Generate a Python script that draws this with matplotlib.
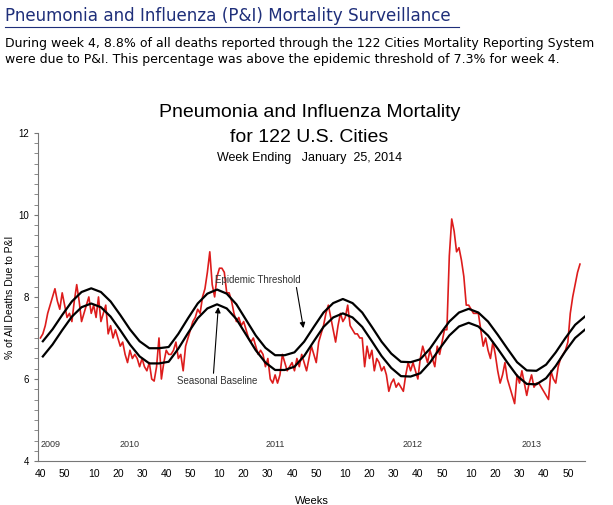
import matplotlib.pyplot as plt
from matplotlib.ticker import MultipleLocator

# ====== data (weekly, starting MMWR week 40 of 2009) ======
pi_pct = [
    7.0, 7.1, 7.3, 7.6, 7.8, 8.0, 8.2, 7.9, 7.7, 8.1, 7.8, 7.5, 7.6, 7.4, 7.9, 8.3, 7.9, 7.4, 7.6, 7.8,
    8.0, 7.6, 7.8, 7.5, 8.0, 7.4, 7.6, 7.8, 7.1, 7.3, 7.0, 7.2, 7.0, 6.8, 6.9, 6.6, 6.4, 6.7, 6.5, 6.6,
    6.5, 6.3, 6.5, 6.3, 6.2, 6.4, 6.0, 5.95, 6.3, 7.0, 6.0, 6.4, 6.7, 6.6, 6.6, 6.7, 6.9, 6.5, 6.6, 6.2,
    6.8, 7.0, 7.2, 7.4, 7.5, 7.7, 7.6, 8.0, 8.2, 8.6, 9.1, 8.3, 8.0, 8.5, 8.7, 8.7, 8.6, 8.1, 8.1, 7.9,
    7.6, 7.4, 7.5, 7.3, 7.4, 7.2, 7.0, 6.9, 7.0, 6.8, 6.6, 6.7, 6.6, 6.3, 6.5, 6.0, 5.9, 6.1, 5.9, 6.1,
    6.6, 6.4, 6.2, 6.3, 6.4, 6.2, 6.5, 6.3, 6.6, 6.4, 6.2, 6.5, 6.8, 6.6, 6.4, 6.9, 7.1, 7.3, 7.6, 7.8,
    7.5, 7.2, 6.9, 7.3, 7.6, 7.4, 7.5, 7.8, 7.3, 7.2, 7.1, 7.1, 7.0, 7.0, 6.3, 6.8, 6.5, 6.7, 6.2, 6.5,
    6.4, 6.2, 6.3, 6.1, 5.7, 5.9, 6.0, 5.8, 5.9, 5.8, 5.7, 6.1, 6.4, 6.2, 6.4, 6.2, 6.0, 6.5, 6.8, 6.6,
    6.4, 6.7, 6.5, 6.3, 6.8, 6.6, 6.9, 7.2, 7.2, 9.0, 9.9, 9.6, 9.1, 9.2, 8.9, 8.5, 7.8, 7.8, 7.7, 7.6,
    7.6, 7.6, 7.2, 6.8, 7.0, 6.7, 6.5, 6.9, 6.6, 6.2, 5.9, 6.1, 6.4, 6.0, 5.8, 5.6, 5.4, 6.1, 5.9, 6.2,
    5.9, 5.6, 5.9, 6.1, 5.8, 5.9, 5.9, 5.8, 5.7, 5.6, 5.5, 6.2, 6.0, 5.9, 6.3, 6.5, 6.6, 6.7, 6.9, 7.6,
    8.0, 8.3, 8.6, 8.8,
]

# baseline / threshold sampled every 4 weeks (week index 1, 5, 9, ...)
curve_week = list(range(1, 226, 4))
baseline = [
    6.55, 6.84, 7.19, 7.52, 7.75, 7.84, 7.75, 7.52, 7.19, 6.84, 6.55, 6.38, 6.38,
    6.42, 6.74, 7.12, 7.48, 7.72, 7.82, 7.72, 7.46, 7.08, 6.70, 6.40, 6.22, 6.22,
    6.30, 6.56, 6.92, 7.27, 7.50, 7.60, 7.50, 7.27, 6.92, 6.56, 6.27, 6.07, 6.06,
    6.14, 6.40, 6.74, 7.06, 7.28, 7.37, 7.28, 7.06, 6.74, 6.40, 6.08, 5.88, 5.87,
    6.02, 6.32, 6.68, 7.00, 7.20,
]
threshold = [
    6.92, 7.21, 7.56, 7.89, 8.12, 8.21, 8.12, 7.89, 7.56, 7.21, 6.92, 6.75, 6.75,
    6.78, 7.10, 7.48, 7.84, 8.08, 8.18, 8.08, 7.82, 7.44, 7.06, 6.76, 6.58, 6.58,
    6.65, 6.91, 7.27, 7.62, 7.85, 7.95, 7.85, 7.62, 7.27, 6.91, 6.62, 6.42, 6.41,
    6.48, 6.74, 7.08, 7.40, 7.62, 7.71, 7.62, 7.40, 7.08, 6.74, 6.41, 6.21, 6.20,
    6.35, 6.65, 7.00, 7.32, 7.52,
]

tick_years = [2010, 2011, 2012, 2013]
tick_weeks = [10, 20, 30, 40, 50]
year_labels = ['2009', '2010', '2011', '2012', '2013']
year_label_week = [4, 37, 97, 154, 203]

# ====== figure ======
fig = plt.figure(figsize=(6.13, 5.05), dpi=100)
plt.rcParams['font.family'] = ['Liberation Sans', 'DejaVu Sans']

fig.text(0.008, 0.950, 'Pneumonia and Influenza (P&I) Mortality Surveillance',
         family='DejaVu Sans', fontsize=12.1, color='#1f2f7a', va='bottom')
fig.add_artist(plt.Line2D([0.008, 0.748], [0.947, 0.947], color='#1f2f7a', lw=0.8))
fig.text(0.008, 0.913, 'During week 4, 8.8% of all deaths reported through the 122 Cities Mortality Reporting System',
         family='DejaVu Sans', fontsize=9.0, va='center')
fig.text(0.008, 0.882, 'were due to P&I. This percentage was above the epidemic threshold of 7.3% for week 4.',
         family='DejaVu Sans', fontsize=9.0, va='center')

fig.text(0.505, 0.777, 'Pneumonia and Influenza Mortality', ha='center', va='center', fontsize=14)
fig.text(0.505, 0.727, 'for 122 U.S. Cities', ha='center', va='center', fontsize=14)
fig.text(0.505, 0.688, 'Week Ending   January  25, 2014', ha='center', va='center', fontsize=9)

ax = fig.add_axes([0.062, 0.087, 0.892, 0.650])
ax.set_facecolor('none')
ax.plot(range(len(pi_pct)), pi_pct, color='#dd1c1c', lw=1.2)
ax.plot(curve_week, baseline, color='black', lw=1.6)
ax.plot(curve_week, threshold, color='black', lw=1.6)

ax.set_xlim(-1, 225)
ax.set_ylim(4, 12)
ax.set_yticks([4, 6, 8, 10, 12])
ax.yaxis.set_minor_locator(MultipleLocator(0.25))
ax.tick_params(axis='y', labelsize=7, length=3, which='both', color='#777777')

xt = [0, 10]
xl = ['40', '50']
for y in tick_years:
    for w in tick_weeks:
        xt.append(12 + 52 * (y - 2010) + w)
        xl.append(str(w))
ax.set_xticks(xt)
ax.set_xticklabels(xl, fontsize=7.5)
ax.tick_params(axis='x', length=0, pad=6)
for s in ['top', 'right']:
    ax.spines[s].set_visible(False)
for s in ['left', 'bottom']:
    ax.spines[s].set_color('#777777')

for lab, w in zip(year_labels, year_label_week):
    ax.text(w, 4.35, lab, fontsize=6.5, ha='center', color='#333333')

ax.set_ylabel('% of All Deaths Due to P&I', fontsize=7.5, labelpad=2)
ax.set_xlabel('Weeks', fontsize=8, labelpad=12)

ax.annotate('Epidemic Threshold', xy=(108.7, 7.24), xytext=(72, 8.42),
            fontsize=7, color='#333333', va='center',
            arrowprops=dict(arrowstyle='-|>', color='black', lw=0.8,
                            shrinkA=0, shrinkB=0, mutation_scale=8, relpos=(0.95, 0)))
ax.annotate('Seasonal Baseline', xy=(73.5, 7.75), xytext=(56.5, 5.95),
            fontsize=7, color='#333333', va='center',
            arrowprops=dict(arrowstyle='-|>', color='black', lw=0.8,
                            shrinkA=0, shrinkB=0, mutation_scale=8, relpos=(0.45, 1)))

fig.savefig('out.png', dpi=100)
